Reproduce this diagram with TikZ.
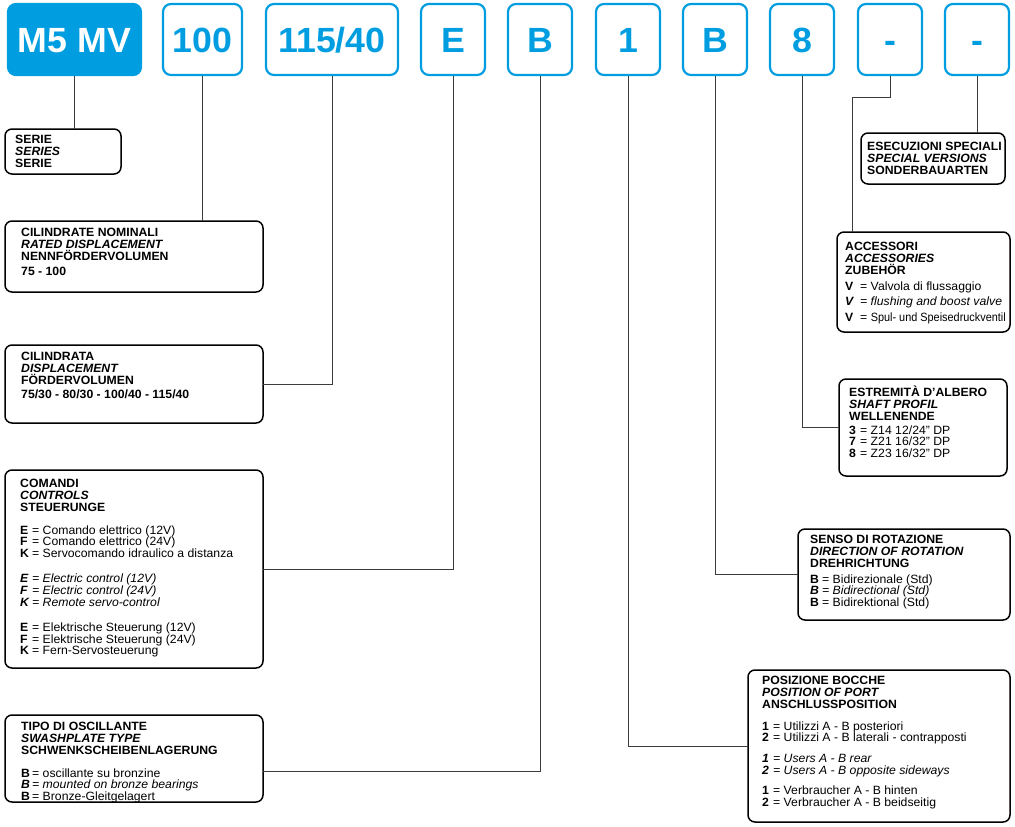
\documentclass[tikz,border=0pt]{standalone}
\usepackage{fontspec}
\usepackage{graphicx}
\setmainfont{Liberation Sans}[FakeStretch=1.02]
\definecolor{codeblue}{RGB}{0,158,224}
\definecolor{wirecol}{RGB}{60,60,60}
% key = description line, key set in a box of fixed width
\newcommand\itm[3]{\makebox[#1][l]{\textbf{#2}}=\ #3}
\newcommand\headup[1]{\textbf{#1}}
\newcommand\headit[1]{\textbf{\textit{#1}}}
\newcommand\firstline{\rule{0pt}{11.5pt}}
\newcommand\boxfont{\fontsize{12}{11.8}\selectfont\lineskiplimit=-20pt\relax}
\begin{document}
\begin{tikzpicture}[x=1pt,y=-1pt,
  codebox/.style={draw=codeblue, line width=2.2pt, rounded corners=8pt,
    minimum height=71pt, inner sep=0pt, text=codeblue,
    text height=25pt, text depth=0pt,
    font=\fontsize{35}{35}\selectfont\bfseries},
  codehead/.style={codebox, fill=codeblue, text=white},
  infobox/.style={draw=black, line width=1.5pt, rounded corners=7pt,
    anchor=north west, inner sep=0pt, outer sep=0pt},
  infotext/.style={anchor=north west, inner sep=0pt, align=left,
    font=\boxfont},
  wire/.style={draw=wirecol, line width=1pt}]
\useasboundingbox (0,0) rectangle (1015,827);

% ---- code row ----
\node[codehead, minimum width=133pt] (t1) at (74.5,39.5) {M5 MV};
\node[codebox, minimum width=79pt]  (t2) at (202.5,39.5) {100};
\node[codebox, minimum width=132pt] (t3) at (332,39.5) {115/40};
\node[codebox, minimum width=64pt]  (t4) at (453,39.5) {E};
\node[codebox, minimum width=64pt]  (t5) at (540,39.5) {B};
\node[codebox, minimum width=64pt]  (t6) at (628,39.5) {1};
\node[codebox, minimum width=64pt]  (t7) at (715,39.5) {B};
\node[codebox, minimum width=64pt]  (t8) at (802,39.5) {8};
\node[codebox, minimum width=64pt]  (t9) at (890,39.5) {-};
\node[codebox, minimum width=64pt]  (t10) at (977,39.5) {-};

% ---- description boxes ----
\node[infobox, minimum width=116pt, minimum height=45pt]  (serie) at (5,129) {};
\node[infobox, minimum width=258pt, minimum height=71pt]  (ciln)  at (5,221) {};
\node[infobox, minimum width=258pt, minimum height=78pt]  (cila)  at (5,345) {};
\node[infobox, minimum width=258pt, minimum height=198pt] (com)   at (5,470) {};
\node[infobox, minimum width=258pt, minimum height=87pt]  (tipo)  at (5,715) {};
\node[infobox, minimum width=144pt, minimum height=51pt]  (esec)  at (861,133) {};
\node[infobox, minimum width=173pt, minimum height=100pt] (acc)   at (837,232) {};
\node[infobox, minimum width=168pt, minimum height=97pt]  (est)   at (839,379) {};
\node[infobox, minimum width=212pt, minimum height=91pt]  (senso) at (798,529) {};
\node[infobox, minimum width=262pt, minimum height=152pt] (pos)   at (748,670) {};

% ---- texts ----
\node[infotext] (serie-t) at (15,131.8) {\firstline\headup{SERIE}\\ \headit{SERIES}\\ \headup{SERIE}};

\node[infotext] (ciln-t) at (21,224.8) {\firstline\headup{CILINDRATE NOMINALI}\\
  \headit{RATED DISPLACEMENT}\\ \headup{NENNFÖRDERVOLUMEN}\\[3.2pt]
  \headup{75 - 100}};

\node[infotext] (cila-t) at (21,348.8) {\firstline\headup{CILINDRATA}\\
  \headit{DISPLACEMENT}\\ \headup{FÖRDERVOLUMEN}\\[2.2pt]
  \headup{75/30 - 80/30 - 100/40 - 115/40}};

\node[infotext] (com-t) at (20,475.8) {\firstline\headup{COMANDI}\\
  \headit{CONTROLS}\\ \headup{STEUERUNGE}\\[11.2pt]
  \itm{12pt}{E}{Comando elettrico (12V)}\\
  \itm{12pt}{F}{Comando elettrico (24V)}\\
  \itm{12pt}{K}{Servocomando idraulico a distanza}\\[13.2pt]
  \textit{\itm{12pt}{E}{Electric control (12V)}}\\
  \textit{\itm{12pt}{F}{Electric control (24V)}}\\
  \textit{\itm{12pt}{K}{Remote servo-control}}\\[13.2pt]
  \itm{12pt}{E}{Elektrische Steuerung (12V)}\\
  \itm{12pt}{F}{Elektrische Steuerung (24V)}\\
  \itm{12pt}{K}{Fern-Servosteuerung}};

\node[infotext] (tipo-t) at (21,718.8) {\firstline\headup{TIPO DI OSCILLANTE}\\
  \headit{SWASHPLATE TYPE}\\ \headup{SCHWENKSCHEIBENLAGERUNG}\\[11.2pt]
  \itm{11pt}{B}{oscillante su bronzine}\\
  \textit{\itm{11pt}{B}{mounted on bronze bearings}}\\
  \itm{11pt}{B}{Bronze-Gleitgelagert}};

\node[infotext] (esec-t) at (867,138.8) {\firstline\headup{ESECUZIONI SPECIALI}\\
  \headit{SPECIAL VERSIONS}\\ \headup{SONDERBAUARTEN}};

\node[infotext] (acc-t) at (845,238.8) {\firstline\headup{ACCESSORI}\\
  \headit{ACCESSORIES}\\ \headup{ZUBEHÖR}\\[4.2pt]
  \itm{15pt}{V}{Valvola di flussaggio}\\[3.6pt]
  \textit{\itm{15pt}{V}{flushing and boost valve}}\\[4.2pt]
  \itm{15pt}{V}{\scalebox{0.89}[1]{Spul- und Speisedruckventil}}};

\node[infotext] (est-t) at (849,384.8) {\firstline\headup{ESTREMITÀ D’ALBERO}\\
  \headit{SHAFT PROFIL}\\ \headup{WELLENENDE}\\[2.2pt]
  \itm{11pt}{3}{Z14 12/24” DP}\\
  \itm{11pt}{7}{Z21 16/32” DP}\\
  \itm{11pt}{8}{Z23 16/32” DP}};

\node[infotext] (senso-t) at (810,531.8) {\firstline\headup{SENSO DI ROTAZIONE}\\
  \headit{DIRECTION OF ROTATION}\\ \headup{DREHRICHTUNG}\\[4.2pt]
  \itm{12pt}{B}{Bidirezionale (Std)}\\
  \textit{\itm{12pt}{B}{Bidirectional (Std)}}\\
  \itm{12pt}{B}{Bidirektional (Std)}};

\node[infotext] (pos-t) at (762,672.8) {\firstline\headup{POSIZIONE BOCCHE}\\
  \headit{POSITION OF PORT}\\ \headup{ANSCHLUSSPOSITION}\\[10.2pt]
  \itm{11pt}{1}{Utilizzi A - B posteriori}\\
  \itm{11pt}{2}{Utilizzi A - B laterali - contrapposti}\\[8.5pt]
  \textit{\itm{11pt}{1}{Users A - B rear}}\\
  \textit{\itm{11pt}{2}{Users A - B opposite sideways}}\\[8.5pt]
  \itm{11pt}{1}{Verbraucher A - B hinten}\\
  \itm{11pt}{2}{Verbraucher A - B beidseitig}};

% ---- connectors ----
\draw[wire] (t1.south) -- (t1.south |- serie.north);
\draw[wire] (t2.south) -- (t2.south |- ciln.north);
\draw[wire] (t3.south) |- (cila.east);
\draw[wire] (t4.south) |- (com.east);
\draw[wire] (t5.south) |- ([yshift=-13pt]tipo.east);
\draw[wire] (t6.south) |- (pos.west);
\draw[wire] (t7.south) |- (senso.west);
\draw[wire] (t8.south) |- (est.west);
\coordinate (bend) at (852,97);
\draw[wire] (t9.south) |- (bend) -- (bend |- acc.north);
\draw[wire] (t10.south) -- (t10.south |- esec.north);
\end{tikzpicture}
\end{document}
